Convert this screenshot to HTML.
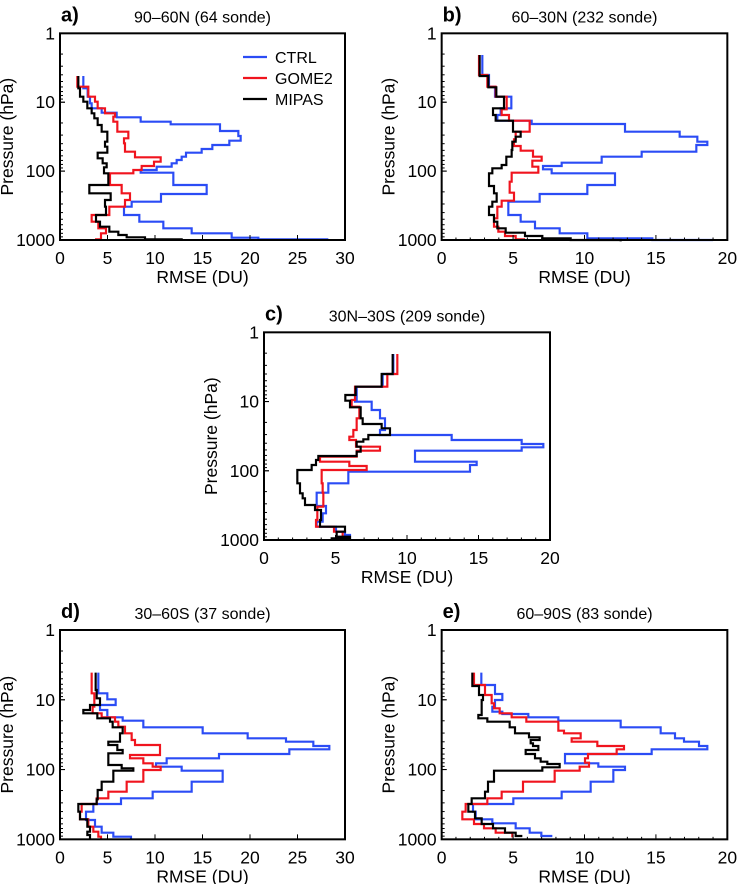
<!DOCTYPE html>
<html><head><meta charset="utf-8"><style>
body{margin:0;background:#fff}
svg{display:block}
text{font-family:"Liberation Sans",sans-serif;fill:#000}
</style></head><body>
<svg id="s" width="738" height="884" viewBox="0 0 738 884" xmlns="http://www.w3.org/2000/svg"></svg>
<script>
const S=document.getElementById('s');const NS='http://www.w3.org/2000/svg';
function el(t,a,p){const e=document.createElementNS(NS,t);for(const k in a)e.setAttribute(k,a[k]);(p||S).appendChild(e);return e}
function txt(x,y,s,a){const e=el('text',Object.assign({x:x,y:y},a||{}));e.textContent=s;return e}
const P=[
{ox:0,oy:0,f:[180,100,1035,720],xmax:30,lab:'a)',title:'90–60N (64 sonde)',
B:[250,228,265,263,290,270,310,275,325,305,338,350,352,422,365,512,373,660,393,715,408,722,422,688,435,637,447,605,458,558,470,545,480,530,490,515,500,470,510,422,518,520,555,620,582,483,605,395,620,372,645,418,665,490,685,575,700,695,713,775,718,985],
R:[232,228,260,265,290,285,305,293,325,315,340,345,350,340,365,352,395,385,415,372,430,375,455,405,472,482,485,462,498,425,510,400,520,330,555,365,580,390,600,375,620,328,645,275,665,295,685,318,700,303,718,285],
K:[235,228,265,240,290,250,305,262,325,275,340,283,355,293,375,305,395,322,425,315,440,322,458,293,475,308,490,320,502,312,520,325,555,268,580,332,600,315,620,318,645,288,665,300,680,328,695,355,705,380,712,435,718,545,722]},
{ox:369,oy:0,f:[218,100,1075,720],xmax:20,lab:'b)',title:'60–30N (232 sonde)',
B:[340,165,225,360,260,378,290,427,325,395,345,385,362,488,372,768,395,932,410,985,425,1015,435,982,455,818,470,698,488,578,498,522,508,548,520,738,555,655,582,512,605,418,645,455,665,498,685,572,700,655,715,850,720,1032],
R:[330,165,225,355,260,380,290,413,328,398,345,420,362,482,395,440,418,435,438,455,452,492,470,518,482,490,500,508,518,428,545,422,578,435,602,398,620,385,655,375,680,388,695,408,708,440,718,465,722],
K:[332,165,228,358,262,382,290,405,325,372,345,380,362,432,395,455,410,440,425,430,450,428,470,412,495,398,505,370,520,360,558,375,580,383,605,370,620,360,645,375,665,385,685,410,698,468,708,520,715,605,720,755,724]},
{ox:190,oy:300,f:[222,97,1080,720],xmax:20,lab:'c)',title:'30N–30S (209 sonde)',
B:[610,162,222,578,260,500,300,495,305,545,330,570,355,585,390,570,405,785,420,995,432,1060,442,995,452,675,485,860,495,840,515,475,550,415,578,380,618,408,640,398,665,380,680,438,695,465,705,480,715,455,722],
R:[622,162,222,592,260,495,300,485,320,508,355,500,390,490,410,478,420,498,440,570,452,500,470,390,485,478,498,530,510,395,550,398,578,400,620,382,660,378,680,432,695,458,715,455,722],
K:[608,162,222,575,260,497,285,466,302,480,322,512,355,518,372,575,385,600,405,535,418,520,425,500,440,512,455,500,468,385,480,378,495,365,510,322,550,330,580,338,595,345,615,375,630,393,660,390,680,465,695,440,710,480,715,425,722]},
{ox:0,oy:600,f:[180,90,1035,718],xmax:30,lab:'d)',title:'30–60S  (37 sonde)',
B:[295,218,280,322,298,347,315,300,330,322,352,368,362,430,382,608,400,743,415,858,425,940,438,988,448,868,462,657,475,500,490,468,500,545,512,668,545,575,575,458,595,363,612,280,635,258,660,285,680,305,698,340,710,393,720],
R:[275,218,280,283,320,278,340,305,352,345,365,355,380,375,400,395,420,405,435,480,465,390,475,430,490,458,500,482,510,430,545,380,575,325,595,290,612,245,635,240,658,265,680,280,695,295,710,303,720],
K:[287,218,270,290,295,300,315,270,330,250,340,292,355,330,365,338,382,368,400,360,425,325,435,352,450,368,460,325,495,365,505,400,512,340,545,305,570,293,598,290,612,235,635,240,658,262,680,270,695,262,705,270,720]},
{ox:369,oy:600,f:[218,90,1075,718],xmax:20,lab:'e)',title:'60–90S (83 sonde)',
B:[337,218,255,378,282,400,300,378,320,370,335,400,342,478,352,568,362,755,382,875,400,918,415,945,425,990,438,1015,448,848,462,588,490,688,500,768,510,733,545,665,575,578,595,433,612,312,635,320,658,370,670,440,685,482,698,517,708,550],
R:[315,218,255,348,285,368,310,375,325,392,340,428,352,472,365,568,392,585,400,635,415,608,425,685,438,765,448,743,462,657,475,648,488,660,500,632,512,557,545,462,575,398,595,355,612,290,635,280,658,315,672,345,685,380,698,430,712],
K:[310,218,258,330,285,342,300,338,345,328,355,355,365,422,382,438,400,480,412,512,420,485,430,492,438,508,450,470,462,498,475,515,485,535,492,572,502,520,512,375,545,357,575,348,595,308,612,298,635,318,655,338,672,372,685,408,698,440,708,460]}
];
function pts(a){let x=a[0],y=a[1],o=[x+','+y];for(let i=2;i<a.length;i+=2){y=a[i];o.push(x+','+y);if(i+1<a.length){x=a[i+1];o.push(x+','+y);}}return o.join(' ')}
P.forEach(p=>{
 const [l,t,r,b]=p.f;const L=p.ox+l/3,T=p.oy+t/3,R=p.ox+r/3,Bm=p.oy+b/3,H=Bm-T,W=R-L;
 const g=el('g',{transform:`translate(${p.ox},${p.oy}) scale(0.33333)`});
 [['B','#2b4cf5'],['R','#f0141e'],['K','#000']].forEach(([k,c])=>el('polyline',{points:pts(p[k]),fill:'none',stroke:c,'stroke-width':6.5,'stroke-linejoin':'miter'},g));
 el('rect',{x:L,y:T,width:W,height:H,fill:'none',stroke:'#000','stroke-width':2});
 for(let d=0;d<3;d++)for(let k=1;k<=10;k++){const y=T+(d+Math.log10(k))/3*H;const len=(k==1||k==10)?5:3;el('line',{x1:L,x2:L+len,y1:y,y2:y,stroke:'#000','stroke-width':1});}
 ['1','10','100','1000'].forEach((s,i)=>txt(L-5,T+i*H/3+6,s,{'text-anchor':'end','font-size':17.5}));
 for(let v=0;v<=p.xmax;v+=1){const x=L+v/p.xmax*W;const len=v%5==0?5:2.5;if(p.xmax==30&&v%5!=0)continue;el('line',{x1:x,x2:x,y1:Bm,y2:Bm-len,stroke:'#000','stroke-width':1});}
 for(let v=0;v<=p.xmax;v+=5){txt(L+v/p.xmax*W,Bm+24,String(v),{'text-anchor':'middle','font-size':17.5});}
 txt(L+W/2,Bm+43,'RMSE (DU)',{'text-anchor':'middle','font-size':17.5});
 const cy=T+H/2;txt(0,0,'Pressure (hPa)',{'text-anchor':'middle','font-size':17.5,transform:`translate(${L-47},${cy}) rotate(-90)`});
 txt(L+W/2,T-11,p.title,{'text-anchor':'middle','font-size':16});
 txt(L+1,T-12,p.lab,{'font-size':20,'font-weight':'bold'});
});
[['CTRL','#2b4cf5',57],['GOME2','#f0141e',78],['MIPAS','#000',99]].forEach(([s,c,y])=>{el('line',{x1:243,x2:267,y1:y,y2:y,stroke:c,'stroke-width':2.2});txt(275,y+6,s,{'font-size':16});});
</script>
</body></html>
